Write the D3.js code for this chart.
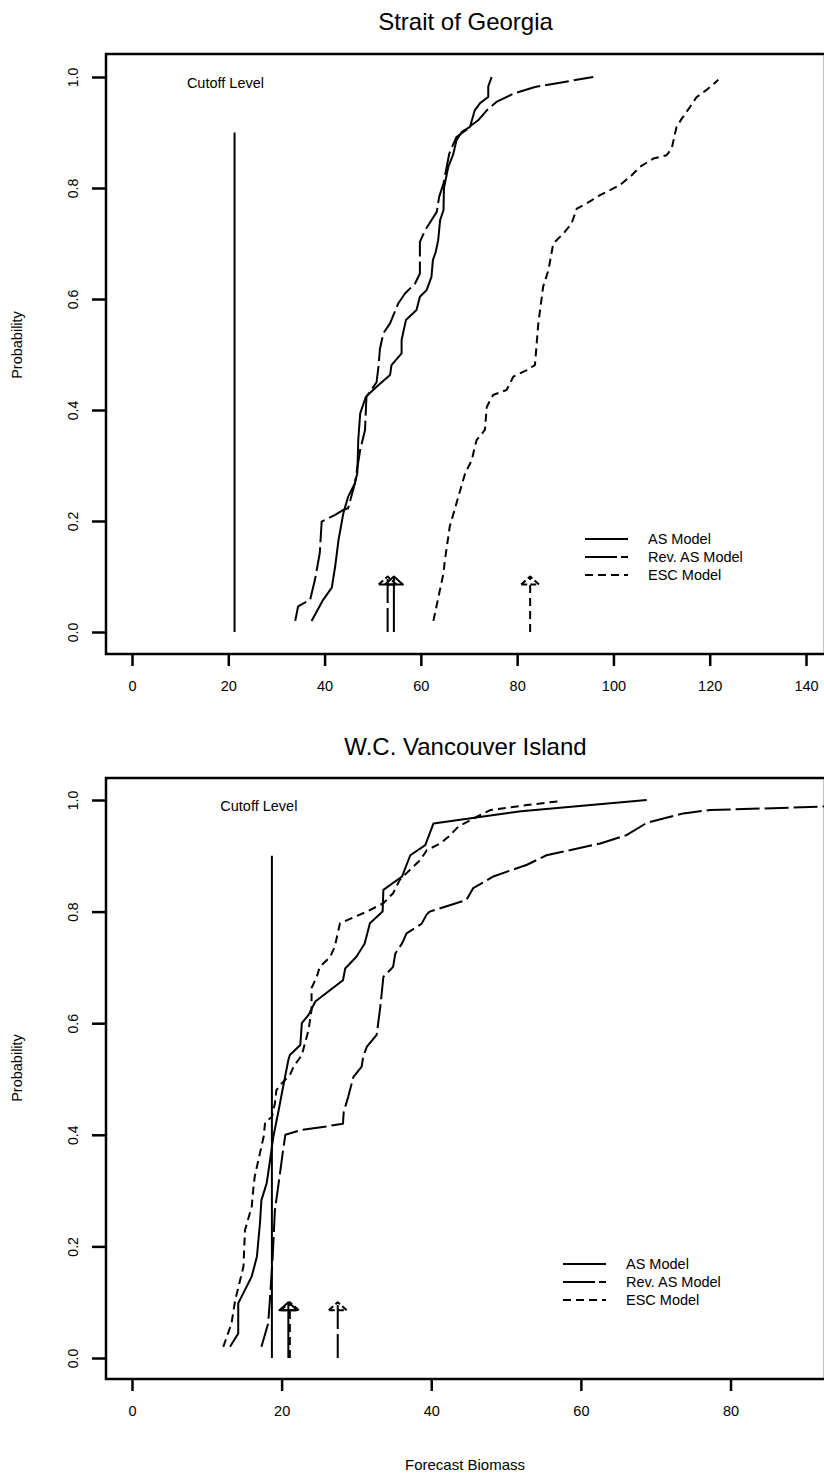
<!DOCTYPE html>
<html>
<head>
<meta charset="utf-8">
<script src="https://cdn.jsdelivr.net/npm/d3@7"></script>
<style>
  body { margin: 0; background: #fff; }
  svg { font-family: Arial, "Liberation Sans", sans-serif; }
  .frame { fill: none; stroke: #000; stroke-width: 2.5; }
  .axis line { stroke: #000; stroke-width: 2.5; }
  .axis path { display: none; }
  .curve { fill: none; stroke: #000; stroke-width: 2; stroke-linejoin: round; }
</style>
</head>
<body>
<div id="chart"></div>
<script>
var width = 824, height = 1478;

// tick values
var sogTicks = [0, 20, 40, 60, 80, 100, 120, 140];
var wcviTicks = [0, 20, 40, 60, 80];
var probTicks = [0, 0.2, 0.4, 0.6, 0.8, 1.0];

// series: [forecast biomass, probability]
var sogAS = [[37.3,0.02],[39.7,0.058],[41.5,0.08],[42.2,0.118],[42.9,0.166],[43.9,0.214],[44.9,0.244],
  [46.3,0.268],[46.8,0.286],[47.0,0.346],[47.4,0.394],[48.6,0.424],[50.8,0.442],[53.6,0.463],[53.9,0.481],
  [56.0,0.502],[56.0,0.526],[56.9,0.562],[59.1,0.58],[59.8,0.604],[61.2,0.616],[62.2,0.64],[62.5,0.67],
  [63.1,0.685],[63.6,0.706],[64.0,0.742],[64.7,0.76],[64.8,0.80],[65.7,0.838],[66.7,0.86],[67.4,0.886],
  [68.5,0.901],[70.2,0.91],[71.2,0.94],[72.3,0.953],[74.0,0.964],[74.0,0.983],[74.7,1.0]];
var sogRev = [[33.9,0.02],[34.5,0.046],[37.0,0.058],[38.0,0.094],[39.0,0.142],[39.4,0.199],[42.2,0.211],
  [43.9,0.22],[44.9,0.223],[46.3,0.268],[47.4,0.328],[48.4,0.364],[48.7,0.424],[50.8,0.45],[51.2,0.478],
  [51.5,0.51],[52.2,0.538],[53.6,0.556],[55.3,0.592],[56.7,0.61],[58.8,0.628],[59.8,0.646],[59.8,0.703],
  [60.9,0.724],[63.3,0.757],[63.8,0.784],[64.7,0.808],[65.9,0.862],[67.4,0.892],[69.5,0.905],[70.5,0.913],
  [71.9,0.922],[73.7,0.94],[75.7,0.955],[79.2,0.97],[83.7,0.982],[95.8,1.0]];
var sogESC = [[62.6,0.02],[64.7,0.106],[65.0,0.13],[66.0,0.19],[66.7,0.211],[67.8,0.244],[68.8,0.274],
  [69.2,0.286],[70.6,0.31],[71.2,0.334],[71.6,0.346],[73.3,0.364],[73.7,0.406],[75.0,0.427],[77.8,0.436],
  [79.2,0.46],[82.0,0.472],[83.7,0.481],[84.0,0.514],[84.4,0.556],[85.4,0.622],[86.5,0.652],[87.5,0.70],
  [89.6,0.718],[91.3,0.736],[92.4,0.763],[94.4,0.772],[97.2,0.787],[101.3,0.805],[103.8,0.823],[105.5,0.838],
  [108.3,0.853],[111.0,0.859],[112.1,0.871],[113.1,0.91],[114.2,0.925],[115.9,0.946],[117.3,0.964],
  [119.4,0.977],[121.8,0.995]];

var wcviAS = [[13.1,0.02],[14.2,0.044],[14.2,0.098],[15.1,0.122],[16.0,0.146],[16.7,0.182],[17.1,0.241],
  [17.3,0.283],[18.0,0.313],[18.4,0.349],[18.9,0.397],[19.6,0.444],[20.2,0.486],[20.9,0.534],[21.1,0.543],
  [22.5,0.561],[22.7,0.60],[23.6,0.615],[24.5,0.639],[28.2,0.677],[28.5,0.698],[30.0,0.719],[31.1,0.743],
  [31.8,0.779],[33.5,0.80],[33.6,0.839],[36.1,0.863],[37.2,0.901],[39.2,0.919],[40.3,0.958],[52.0,0.98],
  [68.8,1.0]];
var wcviRev = [[17.3,0.02],[18.2,0.062],[18.4,0.098],[18.8,0.18],[19.1,0.265],[19.6,0.313],[20.2,0.373],
  [20.5,0.40],[22.7,0.409],[26.0,0.415],[28.2,0.42],[28.3,0.441],[28.9,0.468],[29.6,0.504],[30.7,0.522],
  [30.9,0.54],[31.4,0.558],[32.7,0.579],[33.2,0.63],[33.6,0.683],[34.9,0.701],[35.2,0.725],[36.1,0.743],
  [36.7,0.761],[38.7,0.778],[39.4,0.795],[39.8,0.80],[44.7,0.821],[45.6,0.842],[48.3,0.863],[52.8,0.884],
  [55.4,0.901],[62.6,0.922],[66.1,0.937],[68.8,0.959],[73.7,0.976],[77.3,0.982],[92.0,0.988],[100,1.0]];
var wcviESC = [[12.2,0.02],[13.3,0.062],[13.8,0.104],[14.9,0.164],[15.1,0.229],[16.0,0.271],[16.2,0.301],
  [16.4,0.325],[16.9,0.355],[17.6,0.397],[17.8,0.423],[18.7,0.432],[19.1,0.456],[19.3,0.48],[20.0,0.492],
  [21.1,0.507],[21.6,0.522],[22.7,0.543],[23.6,0.588],[24.0,0.624],[24.0,0.663],[24.7,0.683],[25.1,0.701],
  [26.5,0.719],[27.1,0.737],[27.4,0.755],[27.8,0.779],[31.4,0.80],[33.6,0.815],[34.9,0.833],[35.8,0.857],
  [36.7,0.869],[38.5,0.892],[39.4,0.91],[41.2,0.922],[42.3,0.934],[43.6,0.952],[46.1,0.97],[47.9,0.982],
  [52.8,0.991],[57.2,0.998]];

// point forecasts (arrows) in order AS, Rev. AS, ESC
var sogArrows = [54.4, 53.1, 82.7];
var wcviArrows = [20.9, 27.5, 21.1];
var cutoff = [21.3, 18.7];
var cutoffHeight = 0.9, arrowHeight = 0.1;

var models = ["AS Model", "Rev. AS Model", "ESC Model"];
var dashes = [null, "24,5", "8,5"];

var svg = d3.select("#chart").append("svg")
    .attr("width", width)
    .attr("height", height);

function drawPanel(opt) {
    var x = d3.scaleLinear().domain(opt.xDomain).range(opt.xRange);
    var y = d3.scaleLinear().domain([0, 1]).range(opt.yRange);

    var g = svg.append("g");

    g.append("text")
        .attr("x", (opt.left + opt.right) / 2)
        .attr("y", opt.titleY)
        .attr("text-anchor", "middle")
        .style("font-size", "24px")
        .text(opt.title);

    g.append("clipPath").attr("id", opt.id)
        .append("rect")
        .attr("x", opt.left).attr("y", opt.top)
        .attr("width", opt.right - opt.left).attr("height", opt.bottom - opt.top);

    g.append("rect")
        .attr("class", "frame")
        .attr("x", opt.left).attr("y", opt.top)
        .attr("width", opt.right - opt.left).attr("height", opt.bottom - opt.top);

    var xAxis = d3.axisBottom(x).tickValues(opt.xTicks).tickSize(12).tickPadding(15)
        .tickFormat(d3.format("d"));
    g.append("g")
        .attr("class", "axis")
        .attr("transform", "translate(0," + opt.bottom + ")")
        .call(xAxis)
        .selectAll("text")
        .style("font-size", "14.5px")
        .attr("fill", "#000");

    var yAxis = d3.axisLeft(y).tickValues(probTicks).tickSize(14)
        .tickFormat(d3.format(".1f"));
    g.append("g")
        .attr("class", "axis")
        .attr("transform", "translate(" + opt.left + ",0)")
        .call(yAxis)
        .selectAll("text")
        .attr("x", 0).attr("dy", "0.35em")
        .attr("transform", "translate(-33,0) rotate(-90)")
        .style("text-anchor", "middle")
        .style("font-size", "14px")
        .attr("fill", "#000");

    g.append("text")
        .attr("transform", "translate(22," + opt.ylabY + ") rotate(-90)")
        .attr("text-anchor", "middle")
        .style("font-size", "14.5px")
        .text("Probability");

    var plot = g.append("g").attr("clip-path", "url(#" + opt.id + ")");

    // cutoff level
    plot.append("line")
        .attr("class", "curve")
        .attr("x1", x(opt.cutoff)).attr("x2", x(opt.cutoff))
        .attr("y1", y(0)).attr("y2", y(cutoffHeight));
    g.append("text")
        .attr("x", x(opt.cutoffLabelX))
        .attr("y", y(1) + 11)
        .style("font-size", "14.5px")
        .text("Cutoff Level");

    var line = d3.line()
        .x(function(d) { return x(d[0]); })
        .y(function(d) { return y(d[1]); });

    opt.series.forEach(function(s, i) {
        plot.append("path")
            .datum(s)
            .attr("class", "curve")
            .attr("stroke-dasharray", dashes[i])
            .attr("d", line);
    });

    // forecast arrows with open triangular heads
    opt.arrows.forEach(function(v, i) {
        var ax = x(v), tip = y(arrowHeight);
        plot.append("line")
            .attr("class", "curve")
            .attr("stroke-dasharray", dashes[i])
            .attr("x1", ax).attr("x2", ax)
            .attr("y1", y(0)).attr("y2", tip);
        plot.append("path")
            .attr("class", "curve")
            .attr("stroke-dasharray", dashes[i] ? "6,3" : null)
            .attr("d", "M" + (ax - 9) + "," + (tip + 8) + "L" + ax + "," + tip +
                "L" + (ax + 9) + "," + (tip + 8) + "Z");
    });

    // legend
    var leg = g.append("g");
    models.forEach(function(m, i) {
        var ly = opt.legendY + i * 18;
        leg.append("line")
            .attr("class", "curve")
            .attr("stroke-dasharray", dashes[i] == null ? null : (i == 1 ? "32,4" : "8,5"))
            .attr("x1", opt.legendX).attr("x2", opt.legendX + 43)
            .attr("y1", ly).attr("y2", ly);
        leg.append("text")
            .attr("x", opt.legendX + 63)
            .attr("y", ly + 5)
            .style("font-size", "14.5px")
            .text(m);
    });
}

drawPanel({
    id: "clipSog", title: "Strait of Georgia", titleY: 30,
    left: 106, right: 825, top: 54, bottom: 654,
    xDomain: [0, 140], xRange: [132, 806], yRange: [632, 77],
    xTicks: sogTicks, ylabY: 345,
    series: [sogAS, sogRev, sogESC], arrows: sogArrows,
    cutoff: cutoff[0], cutoffLabelX: 11.4,
    legendX: 585, legendY: 539
});

drawPanel({
    id: "clipWcvi", title: "W.C. Vancouver Island", titleY: 755,
    left: 106, right: 825, top: 778, bottom: 1379,
    xDomain: [0, 80], xRange: [132, 730.5], yRange: [1358, 800],
    xTicks: wcviTicks, ylabY: 1068,
    series: [wcviAS, wcviRev, wcviESC], arrows: wcviArrows,
    cutoff: cutoff[1], cutoffLabelX: 11.8,
    legendX: 563, legendY: 1264
});

svg.append("text")
    .attr("x", 465)
    .attr("y", 1470)
    .attr("text-anchor", "middle")
    .style("font-size", "15px")
    .text("Forecast Biomass");
</script>
</body>
</html>
